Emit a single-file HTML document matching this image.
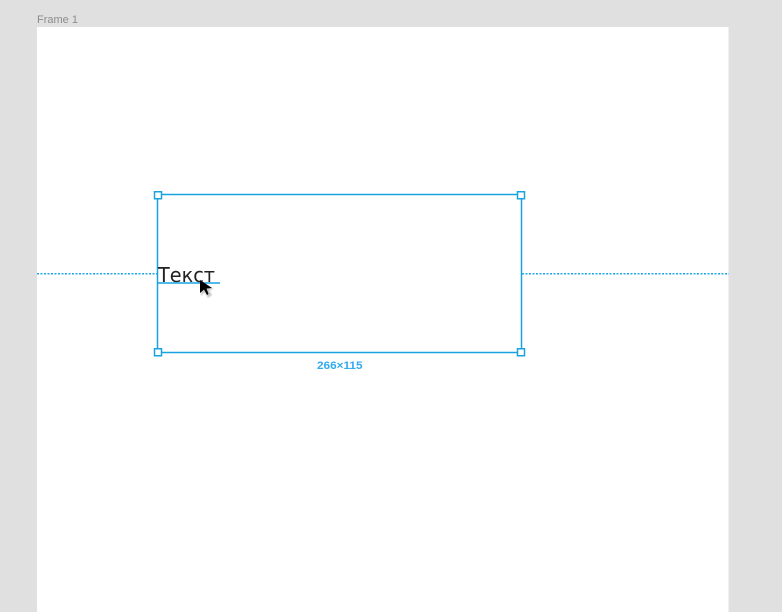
<!DOCTYPE html>
<html><head><meta charset="utf-8"><style>
html,body{margin:0;padding:0;width:782px;height:612px;overflow:hidden;background:#e0e0e0}
svg{position:absolute;left:0;top:0}
</style></head><body>
<svg width="782" height="612" viewBox="0 0 782 612" xmlns="http://www.w3.org/2000/svg">
<defs><filter id="b" x="-30%" y="-30%" width="160%" height="160%"><feGaussianBlur stdDeviation="0.8"/></filter></defs>
<rect width="782" height="612" fill="#e0e0e0"/>
<rect x="37" y="27" width="691.500" height="585" fill="#fff"/>
<text x="37" y="23" font-family="'Liberation Sans',sans-serif" font-size="11" fill="#8c8c8c">Frame 1</text>
<line x1="37" y1="273.700" x2="157" y2="273.700" stroke="#1fa8e6" stroke-dasharray="2 1.500" stroke-width="1.500"/>
<line x1="522" y1="273.700" x2="729" y2="273.700" stroke="#1fa8e6" stroke-dasharray="2 1.500" stroke-width="1.500"/>
<rect x="157.500" y="194.500" width="364" height="158" fill="none" stroke="#18a3e0" stroke-width="1.500"/>
<text x="158" y="282" font-family="'DejaVu Sans',sans-serif" font-size="20" textLength="57" lengthAdjust="spacingAndGlyphs" fill="#222">Текст</text>
<line x1="157" y1="283" x2="220" y2="283" stroke="#18a3e0" stroke-width="1.500"/>
<g fill="#fff" stroke="#18a3e0" stroke-width="1.500">
<rect x="154.500" y="191.750" width="7" height="7"/>
<rect x="517.500" y="191.750" width="7" height="7"/>
<rect x="154.500" y="348.750" width="7" height="7"/>
<rect x="517.500" y="348.750" width="7" height="7"/>
</g>
<path d="M201 283 L201 296 L205 292 L208 298 L212 295 L209 290 L214 289 Z" fill="#999" opacity=".55" filter="url(#b)"/>
<path d="M200 280 L200 293 L204 289.500 L207 295 L208.500 294 L206.500 288.500 L212 288 Z" fill="#000"/>
<text x="317" y="369" textLength="45.500" lengthAdjust="spacingAndGlyphs" font-family="'Liberation Sans',sans-serif" font-size="11" font-weight="bold" fill="#33a9ee">266×115</text>
</svg>
</body></html>
